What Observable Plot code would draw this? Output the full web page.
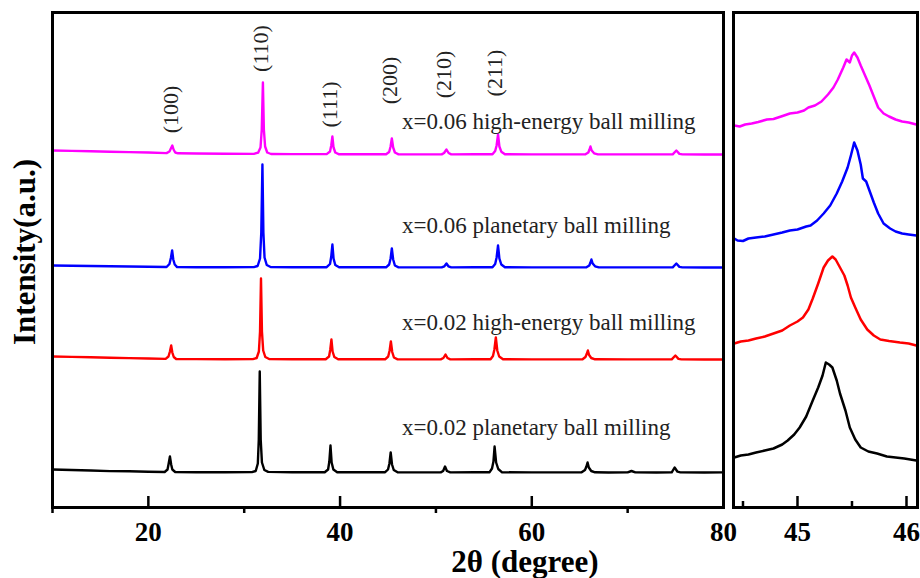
<!DOCTYPE html>
<html>
<head>
<meta charset="utf-8">
<script src="https://cdn.jsdelivr.net/npm/d3@7"></script>
<script src="https://cdn.jsdelivr.net/npm/@observablehq/plot@0.6"></script>
<style>
  body { margin: 0; background: #fff; }
  #fig { position: relative; width: 920px; height: 578px; overflow: hidden; background: #fff;
         font-family: "Liberation Serif", "Times New Roman", serif; }
  #left { position: absolute; left: 0; top: 0; width: 745px; height: 578px; }
  #right { position: absolute; left: 725px; top: 0; width: 195px; height: 578px; }
  .title { position: absolute; font-weight: bold; font-size: 31px; color: #000; white-space: nowrap; }
  #xt { left: 525px; top: 550px; line-height: 24px; transform: translateX(-50%); }
  #yt { left: 24px; top: 252px; line-height: 31px; transform: translate(-50%, -50%) rotate(-90deg); }
</style>
</head>
<body>
<div id="fig">
  <div id="right"></div>
  <div id="left"></div>
  <div class="title" id="xt">2θ (degree)</div>
  <div class="title" id="yt">Intensity(a.u.)</div>
</div>
<script>
// ---------- data ----------
const seriesNames = ["x=0.02 planetary", "x=0.02 high-energy", "x=0.06 planetary", "x=0.06 high-energy"];
const seriesColors = ["#000000", "#ff0000", "#0000ff", "#ff00ff"];
// stacking offsets (a.u.) for the full pattern and for the zoomed (200) panel
const patternOffsets = [350, 1480, 2400, 3530];
const zoomOffsets = [470, 1620, 2670, 3800];

// full XRD patterns: [2θ, intensity above offset]
const blackXRD = [
[10,30],[12,25],[14,20],[16,14],[18,12],[20,8],[21.7,5],
[22.0,30],[22.12,90],[22.25,160],[22.38,80],[22.5,30],[22.8,5],
[25,3],[28,2],[30.8,4],
[31.2,15],[31.42,90],[31.52,330],[31.62,1010],[31.72,330],[31.85,100],[32.1,25],[32.5,6],
[35,2],[38.4,3],
[38.75,30],[38.88,110],[39.0,270],[39.12,100],[39.3,30],[39.7,3],
[42,2],[44.7,3],
[45.0,30],[45.15,90],[45.28,200],[45.42,80],[45.6,25],[46.0,2],
[48,1],[50.5,1],
[50.75,15],[50.95,60],[51.15,15],[51.5,1],
[54,2],[55.6,3],
[55.85,40],[56.0,110],[56.12,260],[56.28,100],[56.5,35],[56.9,2],
[60,1],[65.2,2],
[65.55,25],[65.7,60],[65.82,100],[65.95,50],[66.2,15],[66.6,2],
[68,0],[70.0,1],[70.4,15],[70.8,1],
[73,0],[74.6,2],[74.9,50],[75.2,8],[75.5,1],
[78,0],[80,1]
];
const redXRD = [
[10,30],[12,26],[14,22],[16,18],[18,14],[20,10],[21.8,6],
[22.1,30],[22.25,80],[22.38,140],[22.5,70],[22.65,25],[22.9,5],
[25,4],[28,3],[30.9,4],
[31.3,15],[31.53,80],[31.65,280],[31.75,810],[31.85,280],[31.98,90],[32.2,25],[32.6,5],
[35,2],[38.5,3],
[38.85,30],[38.98,100],[39.1,200],[39.22,80],[39.4,25],[39.8,2],
[42,2],[44.7,2],
[45.02,30],[45.17,90],[45.3,180],[45.44,75],[45.62,20],[46.0,2],
[48,1],[50.5,1],
[50.78,15],[51.0,50],[51.2,15],[51.5,1],
[54,2],[55.7,3],
[55.95,35],[56.1,100],[56.25,220],[56.4,90],[56.6,30],[57.0,2],
[60,1],[65.3,2],
[65.6,25],[65.73,55],[65.85,90],[65.98,45],[66.2,15],[66.6,2],
[70,1],[74.6,2],[74.98,40],[75.3,6],[75.6,1],
[78,0],[80,0]
];
const blueXRD = [
[10,20],[12,18],[14,15],[16,12],[18,10],[20,8],[21.9,5],
[22.2,35],[22.35,95],[22.48,170],[22.6,80],[22.75,30],[23.0,4],
[25,3],[28,2],[31.0,4],
[31.4,15],[31.65,90],[31.78,350],[31.9,1030],[32.0,350],[32.12,100],[32.35,25],[32.75,5],
[35,2],[38.6,3],
[38.95,35],[39.08,110],[39.2,230],[39.32,90],[39.5,25],[39.9,2],
[42,2],[44.8,2],
[45.12,30],[45.27,90],[45.4,190],[45.54,80],[45.72,20],[46.1,2],
[48,1],[50.6,1],
[50.88,12],[51.1,40],[51.3,12],[51.6,1],
[54,2],[55.9,3],
[56.18,35],[56.33,100],[56.48,220],[56.62,90],[56.82,30],[57.2,2],
[60,1],[65.7,2],
[66.0,20],[66.12,50],[66.22,80],[66.35,40],[66.6,12],[67.0,1],
[70,1],[74.7,2],[75.08,40],[75.4,6],[75.7,1],
[78,0],[80,0]
];
const magentaXRD = [
[10,40],[12,36],[14,32],[16,28],[18,24],[20,20],[21.9,14],
[22.2,30],[22.35,60],[22.5,90],[22.63,50],[22.8,20],[23.1,12],
[25,10],[28,7],[31.0,6],
[31.45,18],[31.7,70],[31.83,250],[31.95,720],[32.05,250],[32.18,80],[32.4,20],[32.8,5],
[35,4],[38.6,4],
[38.95,30],[39.08,90],[39.2,180],[39.32,70],[39.5,20],[39.9,2],
[42,2],[44.8,2],
[45.12,25],[45.27,80],[45.4,160],[45.54,70],[45.72,20],[46.1,2],
[48,1],[50.6,1],
[50.85,15],[51.1,50],[51.32,15],[51.6,1],
[54,2],[55.9,3],
[56.18,35],[56.33,90],[56.48,200],[56.62,80],[56.82,28],[57.2,2],
[60,1],[65.6,2],
[65.9,20],[66.02,50],[66.12,80],[66.25,40],[66.5,12],[66.9,1],
[70,1],[74.7,2],[75.08,40],[75.4,6],[75.7,1],
[78,0],[80,0]
];

// zoomed (200) reflection: [2θ, intensity above zoom offset]
const blackZoom = [
[44.42,30],[44.48,50],[44.55,60],[44.62,80],[44.7,100],[44.78,120],[44.86,160],[44.91,200],[44.97,260],
[45.02,330],[45.08,440],[45.14,600],[45.19,730],[45.23,850],[45.26,980],[45.29,960],[45.32,930],[45.36,800],
[45.39,670],[45.44,500],[45.48,330],[45.53,210],[45.58,130],[45.65,90],[45.73,70],[45.82,40],[45.9,30],[45.98,20],[46.09,0]
];
const redZoom = [
[44.42,20],[44.48,40],[44.55,50],[44.62,70],[44.7,90],[44.78,120],[44.86,150],[44.93,200],[45.0,240],[45.05,280],
[45.1,360],[45.14,470],[45.19,620],[45.24,780],[45.28,850],[45.32,890],[45.35,860],[45.39,780],[45.43,700],[45.46,600],
[45.49,480],[45.53,380],[45.58,260],[45.64,160],[45.7,100],[45.76,60],[45.84,45],[45.94,30],[46.02,20],[46.09,0]
];
const blueZoom = [
[44.42,20],[44.45,0],[44.5,-5],[44.55,20],[44.62,30],[44.7,40],[44.78,60],[44.86,80],[44.93,100],[45.0,110],
[45.08,140],[45.12,150],[45.18,200],[45.24,270],[45.3,350],[45.36,470],[45.41,590],[45.46,730],[45.49,850],[45.52,980],
[45.55,900],[45.58,760],[45.6,620],[45.63,590],[45.66,500],[45.7,380],[45.74,270],[45.79,170],[45.85,120],[45.9,90],
[45.96,70],[46.02,60],[46.09,50]
];
const magentaZoom = [
[44.42,20],[44.47,10],[44.52,30],[44.58,40],[44.64,55],[44.72,80],[44.78,85],[44.85,110],[44.93,140],[45.0,150],
[45.06,170],[45.1,200],[45.16,220],[45.22,260],[45.28,330],[45.33,400],[45.37,480],[45.42,600],[45.45,680],[45.48,650],
[45.5,720],[45.52,750],[45.55,700],[45.58,620],[45.62,520],[45.66,420],[45.7,310],[45.74,200],[45.79,140],[45.84,110],
[45.9,80],[45.96,60],[46.02,50],[46.09,30]
];

// reflection labels: [hkl, 2θ, y (a.u.)]
const peakLabels = [
  ["(100)", 22.40, 3980], ["(110)", 31.77, 4590], ["(111)", 38.96, 4030],
  ["(200)", 45.21, 4270], ["(210)", 50.83, 4330], ["(211)", 56.15, 4345]
];
// sample labels: [text, 2θ (start), y (a.u.)]
const sampleLabels = [
  ["x=0.06 high-energy ball milling", 46.46, 3860],
  ["x=0.06 planetary ball milling", 46.46, 2814],
  ["x=0.02 high-energy ball milling", 46.46, 1844],
  ["x=0.02 planetary ball milling", 46.46, 794]
];
const mainMajorTicks = [20, 40, 60];
const mainMinorTicks = [10, 30, 50, 70];
const mainTickLabels = [20, 40, 60, 80];
const zoomMajorTicks = [45, 46];
const zoomMinorTicks = [44.5, 45.5];
const zoomTickLabels = [45, 46];

// ---------- build ----------
const patterns = [blackXRD, redXRD, blueXRD, magentaXRD];
const zooms = [blackZoom, redZoom, blueZoom, magentaZoom];
const fullRows = [];
patterns.forEach((s, i) => s.forEach(([x, v]) => fullRows.push({name: seriesNames[i], x, y: v + patternOffsets[i]})));
const zoomRows = [];
zooms.forEach((s, i) => s.forEach(([x, v]) => zoomRows.push({name: seriesNames[i], x, y: v + zoomOffsets[i]})));
const peakData = peakLabels.map(([t, x, y]) => ({t, x, y}));
const sampleData = sampleLabels.map(([t, x, y]) => ({t, x, y}));

const FONT = '"Liberation Serif", "Times New Roman", serif';
const colorScale = {domain: seriesNames, range: seriesColors};

const left = Plot.plot({
  width: 745, height: 578,
  marginLeft: 52, marginRight: 22, marginTop: 12, marginBottom: 71,
  x: {domain: [10, 80], label: null},
  y: {domain: [0, 4950], axis: null, label: null},
  color: colorScale,
  style: {fontFamily: FONT, background: "transparent", color: "#000", maxWidth: "none"},
  marks: [
    Plot.line(fullRows, {x: "x", y: "y", z: "name", stroke: "name", strokeWidth: 2.4, curve: "linear"}),
    Plot.frame({stroke: "#000", strokeWidth: 3}),
    Plot.axisX(mainMajorTicks, {tickSize: -11, strokeWidth: 2.5, fill: "none", label: null}),
    Plot.axisX(mainMinorTicks, {tickSize: 6, strokeWidth: 2.5, fill: "none", label: null}),
    Plot.axisX(mainTickLabels, {tickSize: 0, tickPadding: 14, fontSize: 27, fontWeight: "bold", label: null, fill: "#000"}),
    Plot.text(peakData, {x: "x", y: "y", text: "t", rotate: -90, fontSize: 22, fill: "#222"}),
    Plot.text(sampleData, {x: "x", y: "y", text: "t", textAnchor: "start", fontSize: 23, fill: "#222"})
  ]
});
document.getElementById("left").appendChild(left);

const right = Plot.plot({
  width: 195, height: 578,
  marginLeft: 8, marginRight: 3, marginTop: 12, marginBottom: 71,
  x: {domain: [44.413, 46.101], label: null},
  y: {domain: [0, 4950], axis: null, label: null},
  color: colorScale,
  style: {fontFamily: FONT, background: "transparent", color: "#000", maxWidth: "none"},
  marks: [
    Plot.line(zoomRows, {x: "x", y: "y", z: "name", stroke: "name", strokeWidth: 2.5}),
    Plot.frame({stroke: "#000", strokeWidth: 3}),
    Plot.axisX(zoomMajorTicks, {tickSize: -11, strokeWidth: 2.5, fill: "none", label: null}),
    Plot.axisX(zoomMinorTicks, {tickSize: -6, strokeWidth: 2.5, fill: "none", label: null}),
    Plot.axisX(zoomTickLabels, {tickSize: 0, tickPadding: 14, fontSize: 27, fontWeight: "bold", label: null, fill: "#000"})
  ]
});
document.getElementById("right").appendChild(right);
</script>
</body>
</html>
